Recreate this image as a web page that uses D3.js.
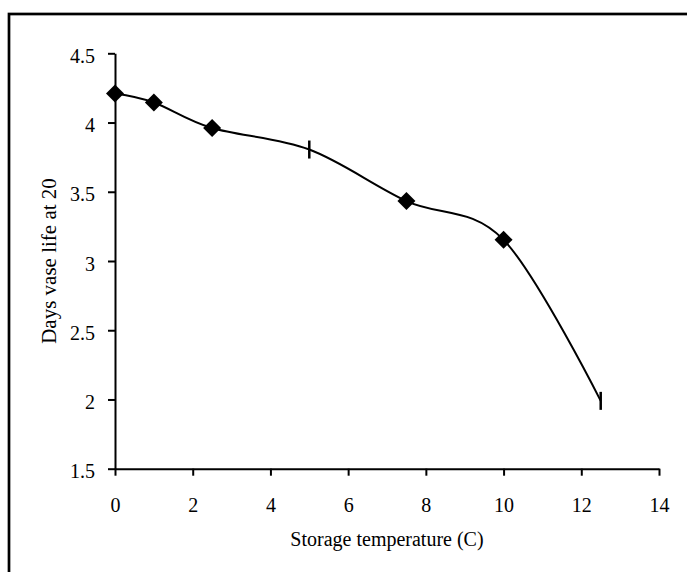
<!DOCTYPE html>
<html>
<head>
<meta charset="utf-8">
<script src="https://cdn.jsdelivr.net/npm/d3@7/dist/d3.min.js"></script>
<style>
  html, body { margin: 0; padding: 0; background: #fff; }
  svg { display: block; }
  text { font-family: "Liberation Serif", "Times New Roman", serif; fill: #000; }
</style>
</head>
<body>
<svg id="chart" width="687" height="572"></svg>
<script>
// ---- data ----
const temperatures = [0, 1, 2.5, 5, 7.5, 10, 12.5];
const vaseLife     = [4.21, 4.145, 3.96, 3.805, 3.433, 3.153, 1.99];
const markerTypes  = ["diamond", "diamond", "diamond", "dash", "diamond", "diamond", "dash"];
const xTicks = [0, 2, 4, 6, 8, 10, 12, 14];
const yTicks = [1.5, 2, 2.5, 3, 3.5, 4, 4.5];
const xTitle = "Storage temperature (C)";
const yTitle = "Days vase life at 20";

const svg = d3.select("#chart");

// outer frame (extends past the right and bottom edges)
svg.append("rect")
  .attr("x", 9).attr("y", 14)
  .attr("width", 720).attr("height", 620)
  .attr("fill", "none").attr("stroke", "#000").attr("stroke-width", 2.7);

const x = d3.scaleLinear().domain([0, 14]).range([115, 659]);
const y = d3.scaleLinear().domain([1.5, 4.5]).range([468.7, 53.3]);

// axes
const yAxis = svg.append("g")
  .attr("transform", `translate(${x(0)},0)`)
  .call(d3.axisLeft(y).tickValues(yTicks).tickSize(7).tickSizeOuter(0).tickPadding(13)
        .tickFormat(d3.format("")));
const xAxis = svg.append("g")
  .attr("transform", `translate(0,${y(1.5)})`)
  .call(d3.axisBottom(x).tickValues(xTicks).tickSize(7).tickSizeOuter(0).tickPadding(22)
        .tickFormat(d3.format("")));

[yAxis, xAxis].forEach(g => {
  g.select(".domain").attr("stroke", "#000").attr("stroke-width", 2);
  g.selectAll(".tick line").attr("stroke", "#000").attr("stroke-width", 2);
  g.selectAll(".tick text")
    .style("font-family", "'Liberation Serif', 'Times New Roman', serif")
    .style("font-size", "20px").attr("fill", "#000");
});
yAxis.selectAll(".tick text").attr("dy", "0.45em");

// axis titles
svg.append("text")
  .attr("x", (x(0) + x(14)) / 2).attr("y", 546)
  .attr("text-anchor", "middle")
  .style("font-size", "20px")
  .text(xTitle);
svg.append("text")
  .attr("transform", `translate(56,${(y(1.5) + y(4.5)) / 2 + 0}) rotate(-90)`)
  .attr("text-anchor", "middle")
  .style("font-size", "21px")
  .text(yTitle);

// data
const pts = temperatures.map((t, i) => ({ t, v: vaseLife[i], m: markerTypes[i] }));

const line = d3.line()
  .x(d => x(d.t)).y(d => y(d.v))
  .curve(d3.curveCatmullRom.alpha(0));
svg.append("path")
  .datum(pts)
  .attr("d", line)
  .attr("fill", "none").attr("stroke", "#000").attr("stroke-width", 2);

const diamond = d3.symbol().type(d3.symbolDiamond2).size(206);
svg.selectAll("path.marker")
  .data(pts.filter(d => d.m === "diamond"))
  .join("path")
  .attr("class", "marker")
  .attr("transform", d => `translate(${x(d.t)},${y(d.v)})`)
  .attr("d", diamond)
  .attr("fill", "#000");

svg.selectAll("line.dash")
  .data(pts.filter(d => d.m === "dash"))
  .join("line")
  .attr("class", "dash")
  .attr("x1", d => x(d.t)).attr("x2", d => x(d.t))
  .attr("y1", d => y(d.v) - 9).attr("y2", d => y(d.v) + 9)
  .attr("stroke", "#000").attr("stroke-width", 2.5);
</script>
</body>
</html>
